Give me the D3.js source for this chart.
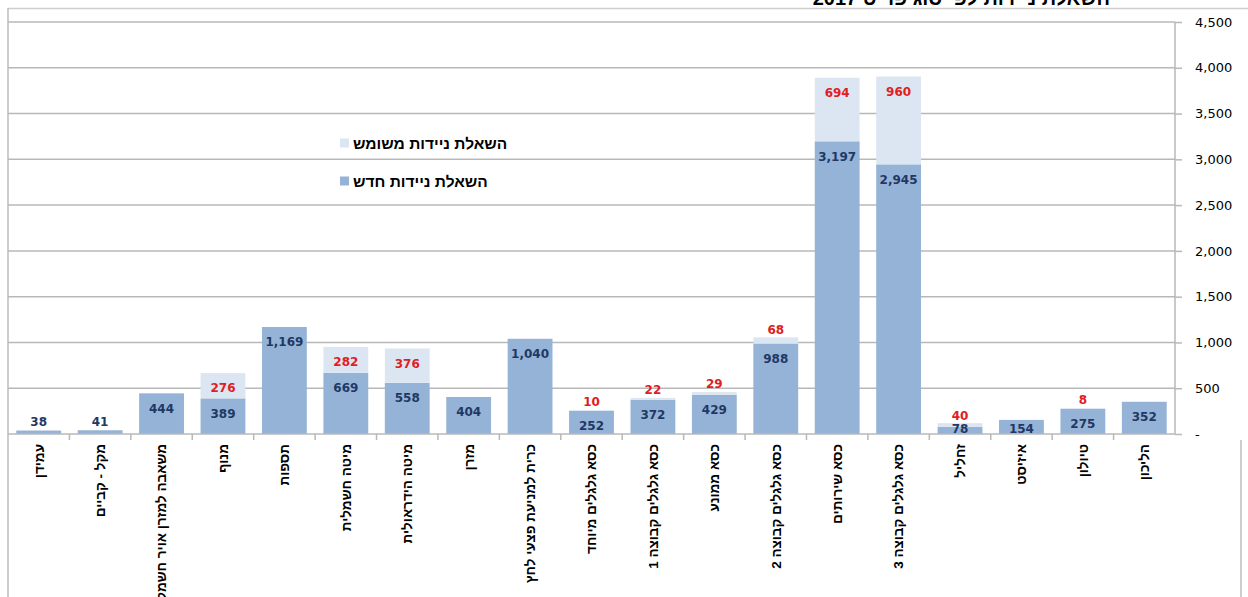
<!DOCTYPE html>
<html lang="he">
<head>
<meta charset="utf-8">
<script src="https://cdn.jsdelivr.net/npm/d3@7"></script>
<style>
  html, body { margin: 0; padding: 0; background: #ffffff; }
  svg { display: block; }
</style>
</head>
<body>
<svg id="chart" width="1248" height="597"></svg>
<script>
// Loan items, drawn left to right
const categories = [
  "עמידן", "מקל - קביים", "משאבה למזרן אויר חשמלי", "מנוף", "תספות",
  "מיטה חשמלית", "מיטה הידראולית", "מזרן", "כרית למניעת פצעי לחץ",
  "כסא גלגלים מיוחד", "כסא גלגלים קבוצה 1", "כסא ממונע", "כסא גלגלים קבוצה 2",
  "כסא שירותים", "כסא גלגלים קבוצה 3", "זחליל", "איזיסט", "טיולון", "הליכון"
];
// New equipment loans
const newLoans = [38, 41, 444, 389, 1169, 669, 558, 404, 1040, 252, 372, 429, 988, 3197, 2945, 78, 154, 275, 352];
// Used equipment loans
const usedLoans = [0, 0, 0, 276, 0, 282, 376, 0, 0, 10, 22, 29, 68, 694, 960, 40, 0, 8, 0];
// Right axis ticks
const yTicks = [0, 500, 1000, 1500, 2000, 2500, 3000, 3500, 4000, 4500];
const seriesNames = ["השאלת ניידות משומש", "השאלת ניידות חדש"];
const titleText = "השאלת ניידות לפי סוג פריט 2017";

const colNew = "#95b3d7", colUsed = "#dce6f2";
const svg = d3.select("#chart");

const x = d3.scaleBand().domain(categories).range([8, 1175]).paddingInner(0.27).paddingOuter(0.135);
const y = d3.scaleLinear().domain([0, 4500]).range([434, 22]);
const fmt = d3.format(",");

// outer frame
svg.append("line").attr("x1", 8).attr("x2", 1248).attr("y1", 8.5).attr("y2", 8.5)
  .attr("stroke", "#cfcfcf").attr("stroke-width", 1.5);
svg.append("line").attr("x1", 8).attr("x2", 8).attr("y1", 8).attr("y2", 597)
  .attr("stroke", "#bdbdbd").attr("stroke-width", 1.5);
svg.append("line").attr("x1", 1241).attr("x2", 1241).attr("y1", 440).attr("y2", 597)
  .attr("stroke", "#bdbdbd").attr("stroke-width", 1.5);

// title running off the top edge
svg.append("text").attr("x", 1110).attr("y", 5)
  .attr("direction", "rtl").attr("text-anchor", "start")
  .style("font-family", "'Liberation Sans', Arial, sans-serif").style("font-weight", "bold")
  .style("font-size", "20px").attr("fill", "#000").text(titleText);

// gridlines
svg.append("g").selectAll("line").data(yTicks.filter(d => d > 0)).join("line")
  .attr("x1", 8).attr("x2", 1175).attr("y1", d => y(d)).attr("y2", d => y(d))
  .attr("stroke", "#b8b8b8").attr("stroke-width", 1.5);

// right value axis
const yAxis = svg.append("g").attr("transform", "translate(1175,0)")
  .call(d3.axisRight(y).tickValues(yTicks).tickSize(7).tickPadding(13)
    .tickFormat(d => d === 0 ? "-" : fmt(d)));
yAxis.select(".domain").attr("stroke", "#b8b8b8").attr("stroke-width", 1.5).attr("d", "M0,22V434");
yAxis.selectAll(".tick line").attr("stroke", "#b8b8b8").attr("stroke-width", 1.5);
yAxis.selectAll(".tick text").style("font-family", "'DejaVu Sans', Verdana, sans-serif")
  .style("font-size", "13px").attr("fill", "#000");

// bars: new (bottom) and used (stacked on top)
const bars = svg.append("g");
bars.selectAll("rect.new").data(categories).join("rect").attr("class", "new")
  .attr("x", d => x(d)).attr("width", x.bandwidth())
  .attr("y", (d, i) => y(newLoans[i])).attr("height", (d, i) => y(0) - y(newLoans[i]))
  .attr("fill", colNew);
bars.selectAll("rect.used").data(categories).join("rect").attr("class", "used")
  .attr("x", d => x(d)).attr("width", x.bandwidth())
  .attr("y", (d, i) => y(newLoans[i] + usedLoans[i]))
  .attr("height", (d, i) => y(newLoans[i]) - y(newLoans[i] + usedLoans[i]))
  .attr("fill", colUsed);

// category axis
svg.append("line").attr("x1", 8).attr("x2", 1175).attr("y1", 434).attr("y2", 434)
  .attr("stroke", "#b8b8b8").attr("stroke-width", 1.5);
const bounds = d3.range(1, categories.length).map(i => x(categories[i]) - x.step() * x.paddingInner() / 2);
svg.append("g").selectAll("line").data(bounds).join("line")
  .attr("x1", d => d).attr("x2", d => d).attr("y1", 434).attr("y2", 440)
  .attr("stroke", "#b8b8b8").attr("stroke-width", 1.5);

svg.append("g").selectAll("text").data(categories).join("text")
  .attr("transform", d => `translate(${x(d) + x.bandwidth() / 2},444) rotate(-90)`)
  .attr("x", 0).attr("y", 0).attr("dy", "0.36em")
  .attr("direction", "rtl").attr("text-anchor", "start")
  .style("font-family", "'Liberation Sans', Arial, sans-serif").style("font-weight", "bold")
  .style("font-size", "13.5px").attr("fill", "#000").text(d => d);

// value labels
const lbl = svg.append("g").style("font-family", "'DejaVu Sans', Verdana, sans-serif")
  .style("font-weight", "bold").style("font-size", "12px").attr("text-anchor", "middle");
lbl.selectAll("text.n").data(categories).join("text").attr("class", "n")
  .attr("x", d => x(d) + x.bandwidth() / 2)
  .attr("y", (d, i) => {
    const top = y(newLoans[i]);
    return newLoans[i] < 60 ? top - 8.5 : Math.min(top + 15, 429);
  })
  .attr("dy", "0.36em").attr("fill", "#1f3864").text((d, i) => fmt(newLoans[i]));
lbl.selectAll("text.u").data(categories.filter((d, i) => usedLoans[i] > 0)).join("text").attr("class", "u")
  .attr("x", d => x(d) + x.bandwidth() / 2)
  .attr("y", d => {
    const i = categories.indexOf(d);
    const top = y(newLoans[i] + usedLoans[i]);
    return usedLoans[i] < 100 ? top - 8 : top + 15;
  })
  .attr("dy", "0.36em").attr("fill", "#e0201e").text(d => fmt(usedLoans[categories.indexOf(d)]));

// legend
const legend = svg.append("g");
[[seriesNames[0], colUsed, 143], [seriesNames[1], colNew, 181]].forEach(([name, c, cy]) => {
  legend.append("rect").attr("x", 340).attr("y", cy - 4.5).attr("width", 9).attr("height", 9).attr("fill", c);
  legend.append("text").attr("x", 353).attr("y", cy).attr("dy", "0.36em")
    .attr("direction", "rtl").attr("text-anchor", "end")
    .style("font-family", "'Liberation Sans', Arial, sans-serif").style("font-weight", "bold")
    .style("font-size", "15.5px").attr("fill", "#000").text(name);
});
</script>
</body>
</html>
